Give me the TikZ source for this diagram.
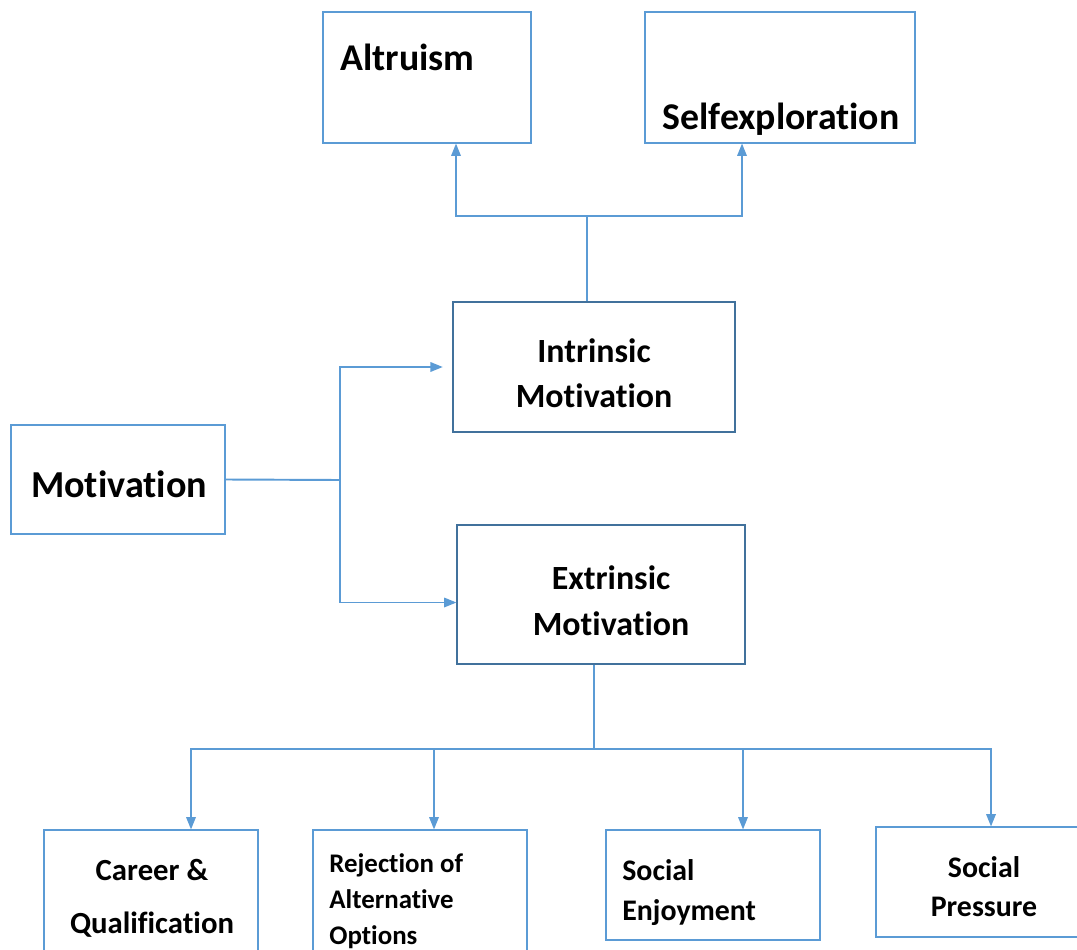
\documentclass[tikz,border=0pt]{standalone}
\usepackage{fontspec}
\setmainfont{Carlito}[Ligatures=NoCommon]
\usetikzlibrary{arrows.meta,fit,calc}
\definecolor{lblue}{HTML}{5B9BD5}
\definecolor{dblue}{HTML}{41719C}
\newcommand{\FS}[2]{\fontsize{#1}{#2}\selectfont\bfseries}

\begin{document}
\begin{tikzpicture}[x=0.02cm, y=-0.02cm,
  box/.style={draw=lblue, line width=0.7pt, inner sep=0pt},
  darkbox/.style={box, draw=dblue},
  lnk/.style={draw=lblue, line width=0.7pt},
  arr/.style={lnk, -{Triangle[length=7pt,width=5.5pt]}},
  txt/.style={inner sep=0pt}]

  \clip (0,0) rectangle (1077,949);

  % boxes
  \node[box, fit={(323,12) (531,143)}] (altr) {};
  \node[box, fit={(645,12) (915,143)}] (self) {};
  \node[darkbox, fit={(453,302) (735,432)}] (intr) {};
  \node[box, fit={(11,425) (225,534)}] (moti) {};
  \node[darkbox, fit={(457,525) (745,664)}] (extr) {};
  \node[box, fit={(44,830) (258,970)}] (care) {};
  \node[box, fit={(313,830) (527,970)}] (reje) {};
  \node[box, fit={(606,830) (820,940)}] (enjo) {};
  \node[box, fit={(876,827) (1092,937)}] (pres) {};

  % texts (base = last line)
  \node[txt, anchor=base west, font=\FS{21.5}{26}] (taltr) at (340,71) {Altruism};
  \node[txt, anchor=base, font=\FS{21.5}{26}] (tself) at (781,130) {Selfexploration};
  \node[txt, anchor=base, font=\FS{21.7}{26}] (tmoti) at (119,497) {Motivation};
  \node[txt, anchor=base, align=center, font=\FS{19.3}{25.5}] (tintr) at (594,407) {Intrinsic\\Motivation};
  \node[txt, anchor=base, align=center, font=\FS{19.3}{26}] (textr) at (611,635) {Extrinsic\\Motivation};
  \node[txt, anchor=base, align=center, font=\FS{17.5}{30}] (tcare) at (152,933) {Career \&\\Qualification};
  \node[txt, anchor=base west, align=left, font=\FS{15.3}{20.3}] (treje) at (329,944) {Rejection of\\Alternative\\Options};
  \node[txt, anchor=base west, align=left, font=\FS{17}{22.7}] (tenjo) at (622,920) {Social\\Enjoyment};
  \node[txt, anchor=base, align=center, font=\FS{17}{22}] (tpres) at (984,916) {Social\\Pressure};

  % Motivation -> Intrinsic / Extrinsic
  \coordinate (jm) at (340,480);
  \draw[lnk, line width=1.1pt] (moti.east) -- (jm);
  \draw[arr, shorten >=5.5pt] (jm) |- (intr.west);
  \draw[arr] (jm) |- ($(extr.west)+(0,8)$);

  % Intrinsic -> Altruism / Selfexploration
  \coordinate (jt) at (587,216);
  \draw[lnk] (intr.north -| jt) -- (jt);
  \draw[arr] (jt) -| ($(altr.south)+(29,0)$);
  \draw[arr] (jt) -| ($(self.south)+(-38,0)$);

  % Extrinsic -> bottom row
  \coordinate (jb) at (594,749);
  \draw[lnk] (extr.south -| jb) -- (jb);
  \foreach \n/\dx in {care/40, reje/14, enjo/30, pres/7}
    \draw[arr] (jb) -| ($(\n.north)+(\dx,0)$);
\end{tikzpicture}
\end{document}
